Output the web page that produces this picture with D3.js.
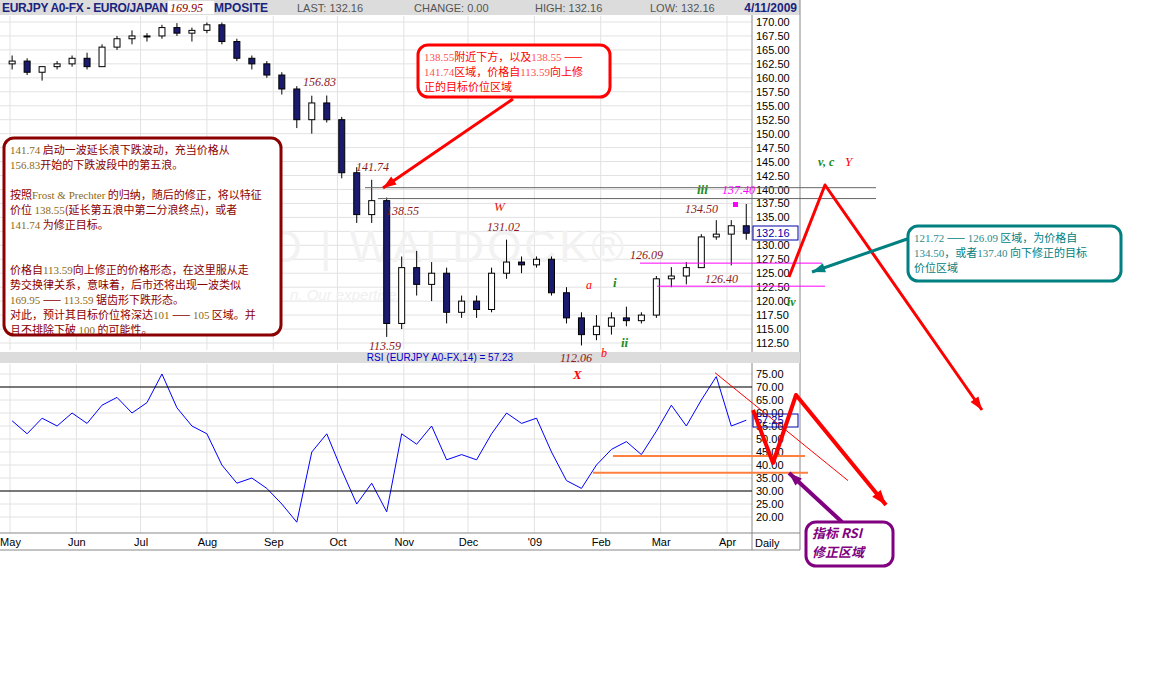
<!DOCTYPE html>
<html><head><meta charset="utf-8">
<script src="https://cdn.jsdelivr.net/npm/d3@7"></script>
<style>body{margin:0;background:#fff}</style>
</head><body>
<script>
// weekly bars, first week ending 2 May 2008
var startDate = new Date(2008, 4, 2);
var opens  = [162.5,163,161,162,162.5,163.5,162,165.5,167,167.5,167.5,169,168,168.5,169.5,166.5,163.5,162.5,160.5,158,152.5,155.5,152.5,143,135.5,138,116,126,123,125,118,120,118.5,125,127,126.5,127.5,121.5,117,114,115.5,117,116.5,117.5,124,124.5,126,131.5,132,133.5];
var highs  = [164,163.5,162,163,164,164.5,166,167.5,168.5,168,169.5,169.8,169,169.9,169.9,167,164,163,161,158.5,156.8,156.83,153,144,141.74,138.55,128,129,127,126,121,121,126,131.02,128,128,128,122.5,118,117.5,118,119,118,124.5,126.09,127,132,134.5,134.5,137.4];
var lows   = [161.5,160.5,159.5,161.5,162,161.5,162,165,166,166.5,167,167.5,166.5,168,166,163,161.5,160,157,151,150,152,142,134,134,113.59,115,121,120,116,117,117,118,124,125,126,121,116,112.06,113,114,115.5,116,117,122.5,123,126,131,126.4,131];
var closes = [163,161,162,162.5,163.5,162,165.5,167,167.5,167.5,169,168,168.5,169.5,166.5,163.5,162.5,160.5,158,152.5,155.5,152.5,143,135.5,138,116,126,123,125,118,120,118.5,125,127,126.5,127.5,121.5,117,114,115.5,117,116.5,117.5,124,124.5,126,131.5,132,133.5,132.16];
var rsi = [57,52,58,55,60,56,63,66,60,64,75,62,55,52,40,33,35,31,25,18,45,52,38,25,33,22,52,48,55,42,44,42,52,60,56,58,45,34,31,40,46,49,44,53,63,55,65,74,55,57.23];
var priceTicks = d3.range(112.5, 170.01, 2.5);
var rsiTicks = d3.range(20, 75.01, 5);
var monthLabels = ["May","Jun","Jul","Aug","Sep","Oct","Nov","Dec","'09","Feb","Mar","Apr"];
var monthDates = d3.range(12).map(function(i){ return new Date(2008, 4 + i, 1); });
var dates = closes.map(function(d, i){ return d3.timeDay.offset(startDate, 7 * i); });

var W = 1155, H = 687;
var svg = d3.select("body").append("svg").attr("width", W).attr("height", H)
  .style("font-family", "Liberation Sans, Arial, sans-serif");

var x = d3.scaleTime().domain([new Date(2008,4,1), new Date(2009,3,1)]).range([10, 727]);
var y = d3.scaleLinear().domain([112.5, 170]).range([343, 22]);
var yr = d3.scaleLinear().domain([20, 75]).range([517, 374]);

// header
svg.append("rect").attr("x",0).attr("y",0).attr("width",800).attr("height",15).attr("fill","#dcdcdc");
svg.append("text").attr("x",2).attr("y",12).attr("font-size",12).attr("font-weight","bold").attr("fill","#1a237e").attr("textLength",166).text("EURJPY A0-FX - EURO/JAPAN");
svg.append("rect").attr("x",168).attr("y",1).attr("width",46).attr("height",13).attr("fill","#fff");
svg.append("text").attr("x",170).attr("y",12).attr("font-size",12).attr("font-style","italic").attr("font-family","Liberation Serif").attr("fill","#8b0000").text("169.95");
svg.append("text").attr("x",214).attr("y",12).attr("font-size",12).attr("font-weight","bold").attr("fill","#1a237e").text("MPOSITE");
[["LAST: 132.16",297],["CHANGE: 0.00",414],["HIGH: 132.16",535],["LOW: 132.16",650]].forEach(function(t){
  svg.append("text").attr("x",t[1]).attr("y",12).attr("font-size",11).attr("fill","#555").text(t[0]);
});
svg.append("text").attr("x",797).attr("y",12).attr("text-anchor","end").attr("font-size",12).attr("font-weight","bold").attr("fill","#1a237e").text("4/11/2009");

// grids
var g = svg.append("g");
g.selectAll(".hp").data(priceTicks).enter().append("line")
  .attr("x1",0).attr("x2",752).attr("y1",function(d){return y(d);}).attr("y2",function(d){return y(d);}).attr("stroke","#e2e2e2");
g.selectAll(".hr").data(rsiTicks).enter().append("line")
  .attr("x1",0).attr("x2",752).attr("y1",function(d){return yr(d);}).attr("y2",function(d){return yr(d);}).attr("stroke","#e2e2e2");
monthDates.forEach(function(d){
  g.append("line").attr("x1",x(d)).attr("x2",x(d)).attr("y1",16).attr("y2",350).attr("stroke","#e2e2e2");
  g.append("line").attr("x1",x(d)).attr("x2",x(d)).attr("y1",364).attr("y2",533).attr("stroke","#e2e2e2");
});

// watermark
svg.append("text").attr("x",270).attr("y",262).attr("font-size",44).attr("fill","#f2f2f2").attr("letter-spacing",3).text("D | WALDOCK®");
svg.append("text").attr("x",290).attr("y",300).attr("font-size",15).attr("font-style","italic").attr("fill","#f0f0f0").text("n. Our expertise.");

// axes
var pa = svg.append("g").attr("transform","translate(752,0)").call(d3.axisRight(y).tickValues(priceTicks).tickFormat(d3.format(".2f")).tickSize(0).tickPadding(4));
var ra = svg.append("g").attr("transform","translate(752,0)").call(d3.axisRight(yr).tickValues(rsiTicks).tickFormat(d3.format(".2f")).tickSize(0).tickPadding(4));
[pa, ra].forEach(function(a){ a.select(".domain").remove(); a.selectAll("text").attr("font-size",11).attr("fill","#000").attr("font-family","Liberation Sans"); });
svg.append("line").attr("x1",752).attr("x2",752).attr("y1",15).attr("y2",550).attr("stroke","#888");
svg.append("line").attr("x1",800).attr("x2",800).attr("y1",0).attr("y2",550).attr("stroke","#888");
svg.append("line").attr("x1",0).attr("x2",800).attr("y1",550).attr("y2",550).attr("stroke","#888");
svg.append("line").attr("x1",0).attr("x2",800).attr("y1",533).attr("y2",533).attr("stroke","#888");
var xa = svg.append("g").attr("transform","translate(0,533)").call(d3.axisBottom(x).tickValues(monthDates).tickFormat(function(d,i){return monthLabels[i];}).tickSize(0).tickPadding(5));
xa.select(".domain").remove();
xa.selectAll("text").attr("font-size",11).attr("fill","#000");
svg.append("text").attr("x",755).attr("y",547).attr("font-size",11).text("Daily");

// RSI separator bar
svg.append("rect").attr("x",0).attr("y",352).attr("width",800).attr("height",11).attr("fill","#dcdcdc");
svg.append("text").attr("x",440).attr("y",361).attr("text-anchor","middle").attr("font-size",10).attr("fill","#0000cc").text("RSI (EURJPY A0-FX,14) = 57.23");

// price bars
var bw = 6;
var bars = svg.append("g").selectAll("g").data(closes).enter().append("g");
bars.append("line").attr("x1",function(d,i){return x(dates[i]);}).attr("x2",function(d,i){return x(dates[i]);})
  .attr("y1",function(d,i){return y(highs[i]);}).attr("y2",function(d,i){return y(lows[i]);}).attr("stroke","#000");
bars.append("rect").attr("x",function(d,i){return x(dates[i]) - bw/2;})
  .attr("y",function(d,i){return y(Math.max(opens[i], d));})
  .attr("width",bw).attr("height",function(d,i){return Math.max(1, Math.abs(y(opens[i]) - y(d)));})
  .attr("fill",function(d,i){return d < opens[i] ? "#1a1a6e" : "#fff";}).attr("stroke","#000");

// rsi line
svg.append("path").datum(rsi).attr("fill","none").attr("stroke","#0000ff")
  .attr("d", d3.line().x(function(d,i){return x(dates[i]);}).y(function(d){return yr(d);}));
[70,30].forEach(function(v){
  svg.append("line").attr("x1",0).attr("x2",752).attr("y1",yr(v)).attr("y2",yr(v)).attr("stroke","#000");
});
svg.append("line").attr("x1",613).attr("x2",805).attr("y1",yr(43.5)).attr("y2",yr(43.5)).attr("stroke","#ff7f3f").attr("stroke-width",2);
svg.append("line").attr("x1",593).attr("x2",808).attr("y1",yr(37)).attr("y2",yr(37)).attr("stroke","#ff7f3f").attr("stroke-width",2);
svg.append("line").attr("x1",715).attr("x2",848).attr("y1",yr(75.5)).attr("y2",yr(34)).attr("stroke","#ff0000");

// value boxes
svg.append("rect").attr("x",753).attr("y",226).attr("width",45).attr("height",14).attr("fill","#fff").attr("stroke","#0000aa");
svg.append("text").attr("x",756).attr("y",237).attr("font-size",11).attr("fill","#0000aa").text("132.16");
svg.append("rect").attr("x",753).attr("y",414).attr("width",45).attr("height",13).attr("fill","none").attr("stroke","#0000aa");
svg.append("text").attr("x",756).attr("y",424).attr("font-size",11).attr("fill","#0000aa").text("57.25");

// horizontal target lines
svg.append("line").attr("x1",365).attr("x2",876).attr("y1",y(140.5)+1).attr("y2",y(140.5)+1).attr("stroke","#666");
svg.append("line").attr("x1",378).attr("x2",876).attr("y1",y(138.55)+1).attr("y2",y(138.55)+1).attr("stroke","#666");
svg.append("line").attr("x1",640).attr("x2",822).attr("y1",y(126.09)-4).attr("y2",y(126.09)-4).attr("stroke","#ff00ff");
svg.append("line").attr("x1",657).attr("x2",825).attr("y1",y(122.5)-1).attr("y2",y(122.5)-1).attr("stroke","#ff00ff");
svg.append("rect").attr("x",733).attr("y",y(137.4)-2).attr("width",5).attr("height",5).attr("fill","#ff00ff");

// labels
function lab(t, px, py, c, sz, opt) {
  var e = svg.append("text").attr("x",px).attr("y",py).attr("font-family","Liberation Serif").attr("font-style","italic")
    .attr("font-size",sz || 12).attr("fill",c).text(t);
  if (opt) e.attr("font-weight","bold");
  return e;
}
var br = "#8b1a1a";
lab("156.83",303,86,br); lab("141.74",356,171,br); lab("138.55",386,215,br);
lab("W",494,211,"#e02020",13); lab("131.02",487,231,br);
lab("126.09",630,259,br); lab("126.40",705,283,br); lab("134.50",685,213,br);
lab("iii",697,194,"#228b22",13,1); lab("137.40",722,194,"#ff00ff");
lab("a",586,289,"#ff0000",12); lab("i",613,287,"#228b22",13,1); lab("ii",621,347,"#228b22",13,1);
lab("b",601,357,"#ff0000",12); lab("112.06",560,362,br); lab("X",573,379,"#ff0000",13,1);
lab("113.59",369,350,br); lab("iv",787,306,"#228b22",12,1);
lab("v, c",818,166,"#228b22",12,1); lab("Y",845,166,"#ff0000",13);

// arrows
function arrow(pts, c, w, head) {
  svg.append("path").attr("d", d3.line()(pts)).attr("fill","none").attr("stroke",c).attr("stroke-width",w).attr("stroke-linejoin","round");
  var a = pts[pts.length-2], b = pts[pts.length-1];
  var ang = Math.atan2(b[1]-a[1], b[0]-a[0]);
  var p1 = [b[0]-head*Math.cos(ang-0.35), b[1]-head*Math.sin(ang-0.35)];
  var p2 = [b[0]-head*Math.cos(ang+0.35), b[1]-head*Math.sin(ang+0.35)];
  svg.append("path").attr("d","M"+b+"L"+p1+"L"+p2+"Z").attr("fill",c);
}
arrow([[789,277],[825,185],[982,410]],"#ff0000",3,14);
arrow([[513,99],[383,188]],"#ff0000",3,14);
arrow([[753,410],[773,463],[796,395],[886,505]],"#ff0000",4,16);
arrow([[910,238],[812,272]],"#008080",3,14);
arrow([[842,522],[789,473]],"#800080",4,14);

// text boxes
function box(x0, y0, w, h, c, lines, col, numCol, sz, lh, style) {
  svg.append("rect").attr("x",x0).attr("y",y0).attr("width",w).attr("height",h).attr("rx",10).attr("fill","#fff").attr("stroke",c).attr("stroke-width",3);
  lines.forEach(function(l, i){
    var t = svg.append("text").attr("x",x0+6).attr("y",y0+16+i*lh).attr("font-size",sz)
      .attr("font-family","Noto Sans CJK SC").attr("fill",col);
    if (style) t.attr("font-style","italic").attr("font-weight","bold");
    l.split(/([0-9][0-9.]*|Frost & Prechter|——)/).forEach(function(s){
      if (!s) return;
      var num = /^[0-9]/.test(s) || s === "Frost & Prechter";
      t.append("tspan").attr("fill", num ? numCol : col).attr("font-family", num ? "Liberation Serif" : null).text(s);
    });
  });
}
box(418,45,192,52,"#ff0000",["138.55附近下方，以及138.55 ——","141.74区域，价格自113.59向上修","正的目标价位区域"],"#ff0000","#ff5050",11,15);
box(4,138,277,197,"#8b0000",["141.74 启动一波延长浪下跌波动，充当价格从","156.83开始的下跌波段中的第五浪。","","按照Frost & Prechter 的归纳，随后的修正，将以特征","价位 138.55(延长第五浪中第二分浪终点)，或者","141.74 为修正目标。","","","价格自113.59向上修正的价格形态，在这里服从走","势交换律关系，意味着，后市还将出现一波类似","169.95 —— 113.59 锯齿形下跌形态。","对此，预计其目标价位将深达101 —— 105 区域。并","且不排除下破 100 的可能性。"],"#8b0000","#8b6914",11,15);
box(908,226,213,55,"#008080",["121.72 —— 126.09 区域，为价格自","134.50，或者137.40 向下修正的目标","价位区域"],"#008080","#2e8b8b",11,15);
box(806,522,87,44,"#800080",["指标 RSI","修正区域"],"#800080","#800080",13,19,true);
</script>
</body></html>
